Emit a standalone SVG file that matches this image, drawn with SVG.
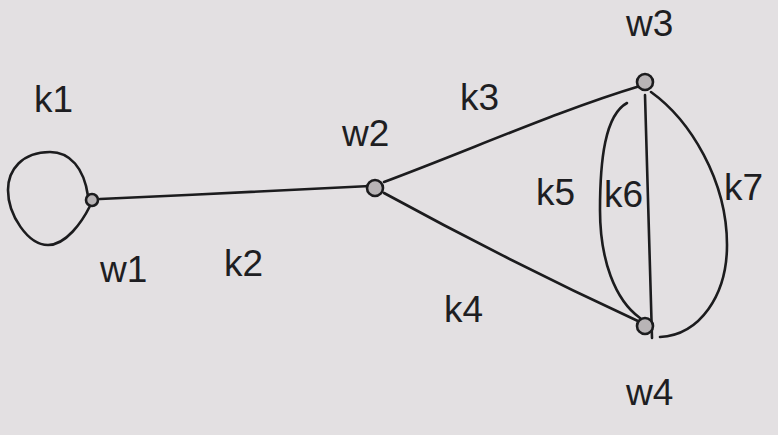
<svg xmlns="http://www.w3.org/2000/svg" width="778" height="435" viewBox="0 0 778 435">
<style>
.edge{fill:none;stroke:#1c1c1e;stroke-width:2.6;stroke-linecap:round;stroke-linejoin:round}
.node{fill:#b8b4b6;stroke:#1c1c1e;stroke-width:2.6}
.lbl{font-family:"Liberation Sans","DejaVu Sans",sans-serif;font-size:37px;fill:#1e1e22;font-weight:normal}
</style>
<rect x="0" y="0" width="778" height="435" fill="#e3e0e2"/>
<g id="connectors">
<path id="k1" class="edge" d="M88,196 C84,168 70,152 50,152 C22,152 8,170 8,190 C8,215 28,245 48,245 C66,245 82,222 90,206"/>
<path id="k2" class="edge" d="M100,199 C190,195 290,190 370,186"/>
<path id="k3" class="edge" d="M384,182 C470,150 560,110 640,86"/>
<path id="k4" class="edge" d="M384,193 C470,240 560,285 640,322"/>
<path id="k5" class="edge" d="M627,103 C605,115 600,160 600,210 C600,260 615,300 640,318"/>
<path id="k6" class="edge" d="M645,95 L652,338"/>
<path id="k7" class="edge" d="M651,92 C690,120 727,180 727,245 C727,295 700,335 660,337"/>
</g>
<g id="w1"><circle class="node" cx="92" cy="200" r="6"/></g>
<g id="w2"><circle class="node" cx="375" cy="188" r="8"/></g>
<g id="w3"><circle class="node" cx="645" cy="82" r="8"/></g>
<g id="w4"><circle class="node" cx="645" cy="326" r="8"/></g>
<g id="labels">
<text class="lbl" x="34" y="112">k1</text>
<text class="lbl" x="100" y="282">w1</text>
<text class="lbl" x="224" y="276">k2</text>
<text class="lbl" x="342" y="146">w2</text>
<text class="lbl" x="460" y="110">k3</text>
<text class="lbl" x="626" y="36">w3</text>
<text class="lbl" x="444" y="322">k4</text>
<text class="lbl" x="536" y="205">k5</text>
<text class="lbl" x="604" y="207">k6</text>
<text class="lbl" x="724" y="200">k7</text>
<text class="lbl" x="626" y="405">w4</text>
</g>
</svg>
